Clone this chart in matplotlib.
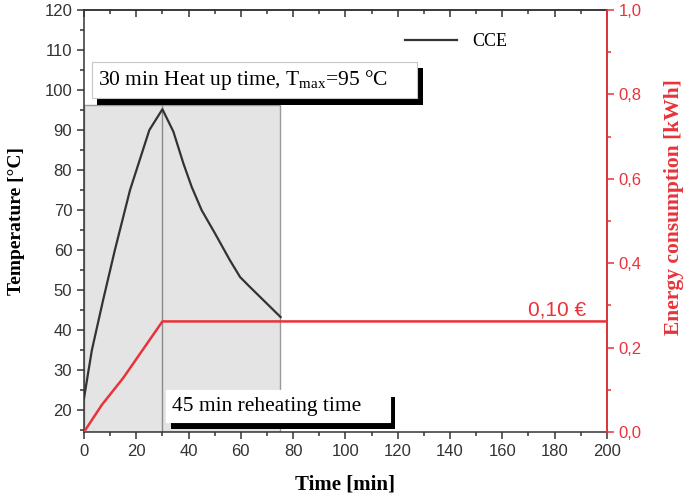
import matplotlib.pyplot as plt
import matplotlib.patheffects as pe
from matplotlib.patches import Rectangle
from matplotlib.ticker import MultipleLocator, FuncFormatter

plt.rcParams['mathtext.fontset'] = 'custom'
plt.rcParams['mathtext.rm'] = 'Liberation Serif'
plt.rcParams['mathtext.it'] = 'Liberation Serif:italic'

# Temperature curve (CCE)
time_temp = [0, 3, 7.3, 10, 11.8, 17.6, 25, 30, 34.2, 38, 41.2, 45, 50.1, 55.8, 59.7, 63.5, 69.9, 75.2]
temp = [23, 35, 47.5, 55, 60, 75, 90, 95.2, 89.6, 81.7, 75.8, 70, 64.2, 57.5, 53.3, 50.8, 46.7, 43.3]

# Energy consumption
time_energy = [0, 6.8, 15, 30, 200]
energy = [0, 0.064, 0.128, 0.262, 0.262]

heat_end = 30
reheat_end = 75
span_top = 96.25
t_min, t_max = 14.6, 120

x_ticks = list(range(0, 201, 20))
e_ticks = [0, 0.2, 0.4, 0.6, 0.8, 1.0]

red = '#e8333a'
dark = '#333333'
sans = 'Liberation Sans'
serif = 'Liberation Serif'

fig, ax = plt.subplots(figsize=(6.85, 4.96), dpi=100)
fig.subplots_adjust(left=0.1226, right=0.886, top=0.98, bottom=0.129)

# shaded heat-up / reheating region
ax.add_patch(Rectangle((0, t_min), reheat_end, span_top - t_min,
                       facecolor='#e4e4e4', edgecolor='#9a9a9a', lw=1, zorder=1))
ax.vlines(heat_end, t_min, span_top, color='#8a8a8a', lw=1, zorder=1.5)

ax.plot(time_temp, temp, color=dark, lw=1.6, label='CCE', zorder=2)

ax.set_xlim(0, 200)
ax.set_ylim(t_min, t_max)
ax.set_xticks(x_ticks)
ax.xaxis.set_minor_locator(MultipleLocator(10))
ax.yaxis.set_major_locator(MultipleLocator(10))
ax.yaxis.set_minor_locator(MultipleLocator(5))
ax.tick_params(axis='both', which='both', direction='out', colors=dark, width=1.1,
               labelsize=12, right=False, top=False)
ax.tick_params(which='major', length=5)
ax.tick_params(which='minor', length=3)
for lab in ax.get_xticklabels() + ax.get_yticklabels():
    lab.set_fontfamily(sans)
for s in ax.spines.values():
    s.set_color(dark)
    s.set_linewidth(1.1)

# top ticks point inward
top = ax.secondary_xaxis('top')
top.set_xticks(x_ticks)
top.xaxis.set_minor_locator(MultipleLocator(10))
top.tick_params(which='both', direction='in', labeltop=False, colors=dark, width=1.1)
top.tick_params(which='major', length=5)
top.tick_params(which='minor', length=3)
top.spines['top'].set_color(dark)
top.spines['top'].set_linewidth(1.1)

ax.set_xlabel('Time [min]', family=serif, fontweight='bold', fontsize=15, labelpad=11)
ax.set_ylabel('Temperature [°C]', family=serif, fontweight='bold', fontsize=14, labelpad=14)

# energy axis
ax2 = ax.twinx()
ax2.plot(time_energy, energy, color=red, lw=1.8)
ax2.set_ylim(0, 1.0)
ax2.set_yticks(e_ticks)
ax2.yaxis.set_minor_locator(MultipleLocator(0.1))
ax2.yaxis.set_major_formatter(FuncFormatter(lambda v, p: f'{v:.1f}'.replace('.', ',')))
ax2.tick_params(axis='y', which='both', colors=red, width=1.1, labelsize=12)
ax2.tick_params(which='major', length=5)
ax2.tick_params(which='minor', length=3)
for lab in ax2.get_yticklabels():
    lab.set_fontfamily(sans)
ax2.spines['right'].set_color(red)
ax2.spines['right'].set_linewidth(1.3)
for k in ['left', 'top', 'bottom']:
    ax2.spines[k].set_visible(False)
ax2.set_ylabel('Energy consumption [kWh]', family=serif, fontweight='bold', fontsize=15.5,
               color=red, rotation=90, va='center', ha='center')
ax2.yaxis.set_label_coords(1.128, 0.533)
ax2.text(192, 0.29, '0,10 €', color=red, family=sans, fontsize=15, ha='right', va='center')

# annotation boxes with drop shadow
shadow = [pe.SimplePatchShadow(offset=(4, -4.5), shadow_rgbFace='black', alpha=1), pe.Normal()]
b1 = ax.text(5.5, 102.5, r'30 min Heat up time, T$_{\mathrm{max}}$=95 °C     ', family=serif,
             fontsize=15.5, va='center', ha='left', zorder=4,
             bbox=dict(boxstyle='square,pad=0.3', fc='white', ec='#c8c8c8', lw=0.8))
b1.get_bbox_patch().set_path_effects(shadow)
b2 = ax.text(33.8, 21, '45 min reheating time    ', family=serif, fontsize=15.5,
             va='center', ha='left', zorder=4,
             bbox=dict(boxstyle='square,pad=0.3', fc='white', ec='white', lw=0.8))
b2.get_bbox_patch().set_path_effects(shadow)

leg = ax.legend(loc='center left', bbox_to_anchor=(0.614, 0.924), frameon=False,
                prop={'family': serif, 'size': 13}, handlelength=2.9, borderaxespad=0,
                borderpad=0, handletextpad=0.8)

plt.savefig('out.png', dpi=100)
